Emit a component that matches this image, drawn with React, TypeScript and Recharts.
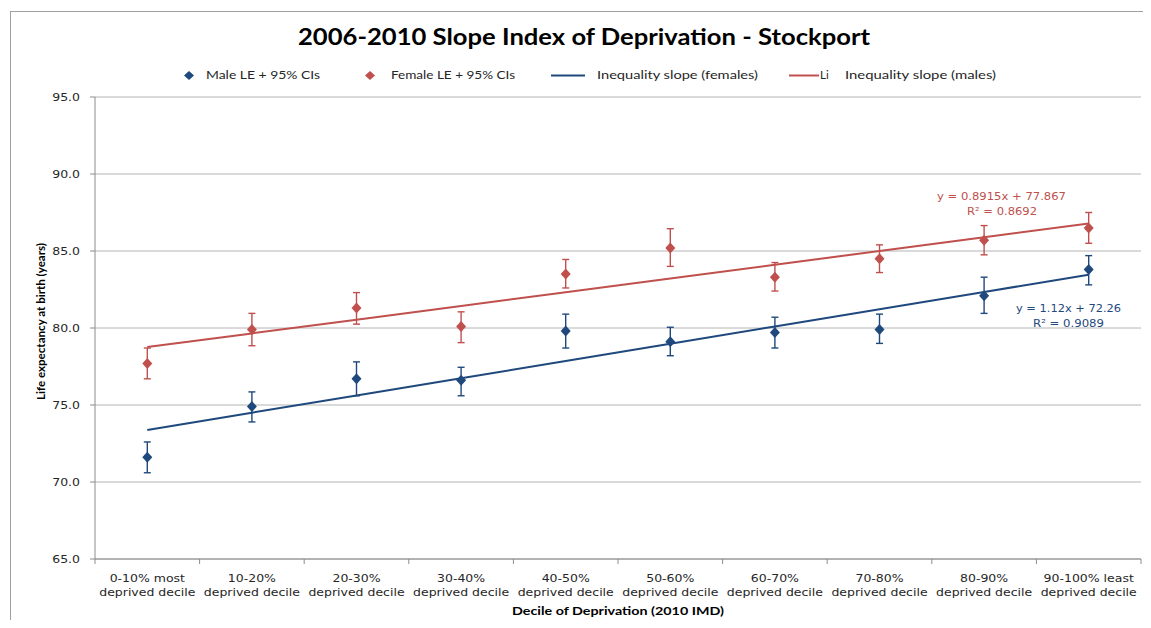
import React from 'react';
import { ComposedChart, XAxis, YAxis, CartesianGrid, Line, Scatter, ErrorBar } from 'recharts';

const categories = [
  '0-10% most deprived decile',
  '10-20% deprived decile',
  '20-30% deprived decile',
  '30-40% deprived decile',
  '40-50% deprived decile',
  '50-60% deprived decile',
  '60-70% deprived decile',
  '70-80% deprived decile',
  '80-90% deprived decile',
  '90-100% least deprived decile',
];

const maleLE = [71.6, 74.9, 76.7, 76.6, 79.8, 79.1, 79.7, 79.9, 82.1, 83.8];
const maleLow = [70.6, 73.9, 75.6, 75.6, 78.7, 78.2, 78.7, 79.0, 80.95, 82.8];
const maleHigh = [72.6, 75.85, 77.8, 77.45, 80.9, 80.05, 80.7, 80.9, 83.3, 84.7];

const femaleLE = [77.7, 79.9, 81.3, 80.1, 83.5, 85.2, 83.3, 84.5, 85.7, 86.5];
const femaleLow = [76.7, 78.85, 80.25, 79.05, 82.6, 84.0, 82.4, 83.6, 84.75, 85.5];
const femaleHigh = [78.7, 80.95, 82.3, 81.05, 84.45, 86.45, 84.25, 85.4, 86.65, 87.5];

const maleTrend = [73.38, 74.5, 75.62, 76.74, 77.86, 78.98, 80.1, 81.22, 82.34, 83.46];
const femaleTrend = [78.76, 79.65, 80.54, 81.43, 82.32, 83.22, 84.11, 85.0, 85.89, 86.78];

const yTicks = [65, 70, 75, 80, 85, 90, 95];

const title = '2006-2010 Slope Index of Deprivation - Stockport';
const legendLabels = ['Male LE + 95% CIs', 'Female LE + 95% CIs', 'Inequality slope (females)', 'Inequality slope (males)'];
const xAxisTitle = 'Decile of Deprivation  (2010 IMD)';
const yAxisTitle = 'Life expectancy at birth (years)';
const femaleEquation = ['y = 0.8915x + 77.867', 'R² = 0.8692'];
const maleEquation = ['y = 1.12x + 72.26', 'R² = 0.9089'];

const BLUE = '#1F497D';
const RED = '#C0504D';
const AXIS = '#8c8c8c';
const GRID = '#b4b4b4';
const TEXT = '#262626';

const data = categories.map((c, i) => ({
  idx: i + 1,
  label: c,
  male: maleLE[i],
  maleErr: [maleLE[i] - maleLow[i], maleHigh[i] - maleLE[i]],
  female: femaleLE[i],
  femaleErr: [femaleLE[i] - femaleLow[i], femaleHigh[i] - femaleLE[i]],
  maleTrend: maleTrend[i],
  femaleTrend: femaleTrend[i],
}));

const xTicks = Array.from({ length: categories.length * 2 + 1 }, (_, i) => 0.5 + i * 0.5);

const splitLabel = (s: string) => {
  const tail = ' deprived decile';
  if (s.endsWith(tail)) return [s.slice(0, -tail.length), 'deprived decile'];
  return [s, ''];
};

const XTick = (props: any) => {
  const { x, y, payload } = props;
  const v = payload.value;
  if (Number.isInteger(v)) {
    const [l1, l2] = splitLabel(categories[v - 1]);
    return (
      <g>
        <text transform={`translate(${x},${y + 23}) scale(1.25,1)`} textAnchor="middle" fontFamily="DejaVu Sans" fontSize={10} fill={TEXT}>{l1}</text>
        <text transform={`translate(${x},${y + 37}) scale(1.25,1)`} textAnchor="middle" fontFamily="DejaVu Sans" fontSize={10} fill={TEXT}>{l2}</text>
      </g>
    );
  }
  return <line x1={x} x2={x} y1={y} y2={y + 5} stroke={AXIS} strokeWidth={1} />;
};

const YTick = (props: any) => {
  const { x, y, payload } = props;
  return (
    <text transform={`translate(${x},${y}) scale(1.25,1)`} dy="0.36em" textAnchor="end" fontFamily="DejaVu Sans" fontSize={10} fill={TEXT}>
      {Number(payload.value).toFixed(1)}
    </text>
  );
};

const Diamond = (props: any) => {
  const { cx, cy, fill } = props;
  if (cx == null || cy == null) return null;
  return <path d={`M${cx},${cy - 5.5}L${cx + 5},${cy}L${cx},${cy + 5.5}L${cx - 5},${cy}Z`} fill={fill} />;
};

export default function App() {
  return (
    <div style={{ position: 'relative', width: 1135, height: 612, overflow: 'hidden', background: '#fff' }}>
      <div style={{ position: 'absolute', left: 2, top: 3, width: 1300, height: 800, border: '1px solid #a0a0a0', boxSizing: 'border-box' }} />
      <div style={{ position: 'absolute', left: 0, top: 0 }}>
        <ComposedChart width={1135} height={612} data={data} margin={{ top: 89, right: 2, left: 0, bottom: 0 }}>
          <CartesianGrid vertical={false} stroke={GRID} strokeWidth={1} />
          <XAxis
            dataKey="idx"
            type="number"
            domain={[0.5, 10.5]}
            ticks={xTicks}
            interval={0}
            tickLine={false}
            tickSize={0}
            tickMargin={0}
            axisLine={{ stroke: AXIS }}
            tick={<XTick />}
            height={61}
          />
          <YAxis
            type="number"
            domain={[65, 95]}
            ticks={yTicks}
            interval={0}
            width={87}
            tickSize={5}
            tickMargin={10}
            axisLine={{ stroke: AXIS }}
            tickLine={{ stroke: AXIS }}
            tick={<YTick />}
          />
          <Line dataKey="maleTrend" stroke={BLUE} strokeWidth={2} dot={false} isAnimationActive={false} />
          <Line dataKey="femaleTrend" stroke={RED} strokeWidth={2} dot={false} isAnimationActive={false} />
          <Scatter dataKey="male" fill={BLUE} shape={<Diamond />} isAnimationActive={false}>
            <ErrorBar dataKey="maleErr" direction="y" width={3.5} stroke={BLUE} strokeWidth={1.4} />
          </Scatter>
          <Scatter dataKey="female" fill={RED} shape={<Diamond />} isAnimationActive={false}>
            <ErrorBar dataKey="femaleErr" direction="y" width={3.5} stroke={RED} strokeWidth={1.4} />
          </Scatter>

          <text x={576} y={37} textAnchor="middle" fontFamily="Lato" fontWeight="bold" fontSize={23} fill="#000" textLength={572} lengthAdjust="spacingAndGlyphs">{title}</text>

          <path d="M181,63L186,67.5L181,72L176,67.5Z" fill={BLUE} />
          <text x={198} y={67} fontFamily="Lato" fontSize={11.5} fill={TEXT} textLength={114} lengthAdjust="spacingAndGlyphs" dy="0.35em">{legendLabels[0]}</text>
          <path d="M362,63L367,67.5L362,72L357,67.5Z" fill={RED} />
          <text x={383} y={67} fontFamily="Lato" fontSize={11.5} fill={TEXT} textLength={124} lengthAdjust="spacingAndGlyphs" dy="0.35em">{legendLabels[1]}</text>
          <line x1={543} x2={577} y1={67.5} y2={67.5} stroke={BLUE} strokeWidth={2} />
          <text x={589} y={67} fontFamily="Lato" fontSize={11.5} fill={TEXT} textLength={161} lengthAdjust="spacingAndGlyphs" dy="0.35em">{legendLabels[2]}</text>
          <line x1={781} x2={811} y1={67.5} y2={67.5} stroke={RED} strokeWidth={2} />
          <text x={812} y={67} fontFamily="Lato" fontSize={11.5} fill={TEXT} dy="0.35em">Li</text>
          <text x={837} y={67} fontFamily="Lato" fontSize={11.5} fill={TEXT} textLength={151} lengthAdjust="spacingAndGlyphs" dy="0.35em">{legendLabels[3]}</text>

          <text x={993.5} y={192} textAnchor="middle" fontFamily="DejaVu Sans" fontSize={10.5} fill={RED} textLength={129} lengthAdjust="spacingAndGlyphs">{femaleEquation[0]}</text>
          <text x={994} y={206.5} textAnchor="middle" fontFamily="DejaVu Sans" fontSize={10.5} fill={RED} textLength={70} lengthAdjust="spacingAndGlyphs">{femaleEquation[1]}</text>
          <text x={1060.5} y={304} textAnchor="middle" fontFamily="DejaVu Sans" fontSize={10.5} fill={BLUE} textLength={105} lengthAdjust="spacingAndGlyphs">{maleEquation[0]}</text>
          <text x={1060.5} y={319} textAnchor="middle" fontFamily="DejaVu Sans" fontSize={10.5} fill={BLUE} textLength={71} lengthAdjust="spacingAndGlyphs">{maleEquation[1]}</text>

          <text x={610} y={607} textAnchor="middle" fontFamily="Lato" fontWeight="bold" fontSize={11.5} fill="#000" textLength={212} lengthAdjust="spacingAndGlyphs">{xAxisTitle}</text>
          <text transform="translate(37,313.5) rotate(-90)" textAnchor="middle" fontFamily="Lato" fontWeight="bold" fontSize={11} fill="#000" textLength={157} lengthAdjust="spacingAndGlyphs">{yAxisTitle}</text>
        </ComposedChart>
      </div>
    </div>
  );
}
